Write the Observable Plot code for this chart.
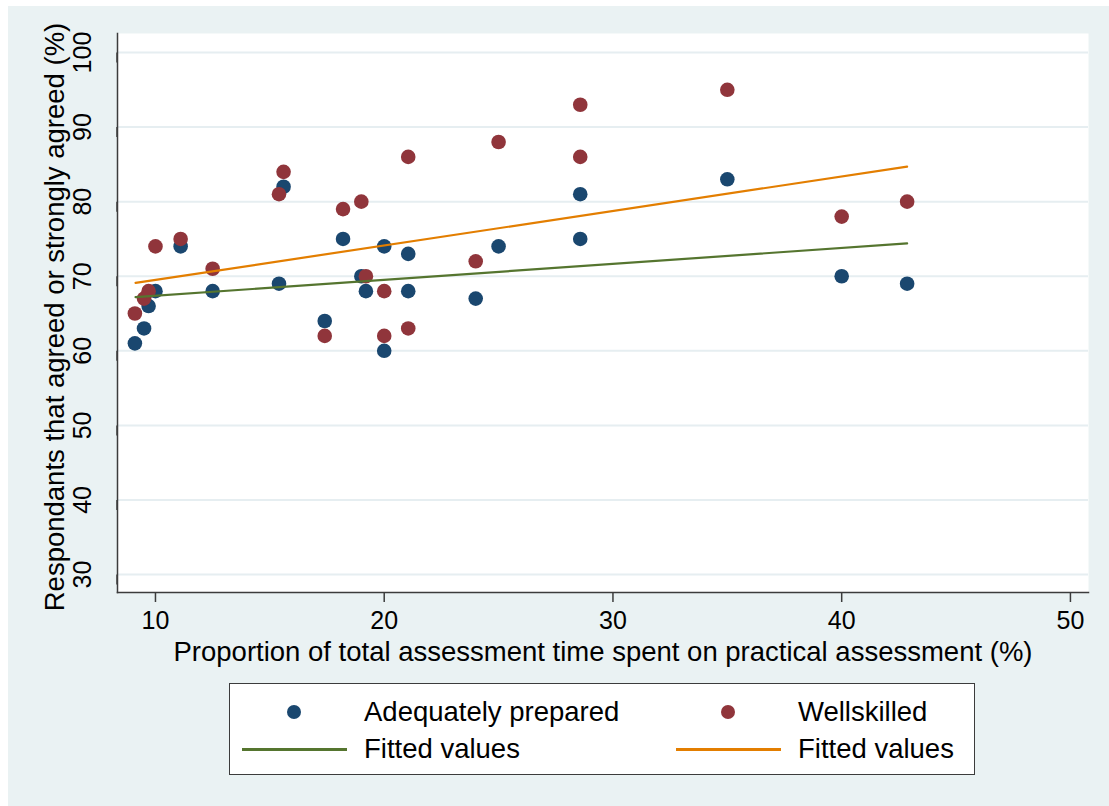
<!DOCTYPE html>
<html>
<head>
<meta charset="utf-8">
<script src="https://cdn.jsdelivr.net/npm/d3@7"></script>
<script src="https://cdn.jsdelivr.net/npm/@observablehq/plot@0.6"></script>
<style>
  html, body { margin: 0; padding: 0; background: #ffffff; }
  #wrap { position: absolute; left: 8px; top: 6px; width: 1101px; height: 800px; background: #EAF2F3; font-family: "Liberation Sans", Arial, Helvetica, sans-serif; }
  #chart { position: absolute; left: 0; top: 0; }
  #legend { position: absolute; left: 221px; top: 677px; width: 744px; height: 90px; background: #fff; border: 1.5px solid #3c3c3c; }
  .item { position: absolute; font-size: 27.5px; color: #000; line-height: 30px; white-space: nowrap; }
  .dot { position: absolute; width: 14px; height: 14px; border-radius: 50%; }
  .ln { position: absolute; height: 3px; }
</style>
</head>
<body>
<div id="wrap">
  <div id="chart"></div>
  <div id="legend"></div>
</div>
<script>
// ---- data ----
const practicalShare = [9.1, 9.5, 9.7, 10, 11.1, 12.5, 15.4, 15.6, 17.4, 18.2, 19, 19.2, 20, 20, 21.05, 21.05, 24, 25, 28.57, 28.57, 35, 40, 42.86];
const adequatelyPrepared = [61, 63, 66, 68, 74, 68, 69, 82, 64, 75, 70, 68, 74, 60, 73, 68, 67, 74, 81, 75, 83, 70, 69];
const wellskilled = [65, 67, 68, 74, 75, 71, 81, 84, 62, 79, 80, 70, 68, 62, 86, 63, 72, 88, 93, 86, 95, 78, 80];
// fitted-line endpoints as drawn in the reference
const fittedX = [9.13, 42.86];
const fittedAdequate = [67.2, 74.4];
const fittedWell = [69.1, 84.7];
const xTicks = [10, 20, 30, 40, 50];
const yTicks = [30, 40, 50, 60, 70, 80, 90, 100];
const seriesNames = ["Adequately prepared", "Wellskilled", "Fitted values", "Fitted values"];
const colors = ["#1A476F", "#90353B", "#55752F", "#E37E00"];
const xLabel = "Proportion of total assessment time spent on practical assessment (%)";
const yLabel = "Respondants that agreed or strongly agreed (%)";

const blueData = practicalShare.map((x, i) => ({x, y: adequatelyPrepared[i]}));
const redData = practicalShare.map((x, i) => ({x, y: wellskilled[i]}));
const greenFit = fittedX.map((x, i) => ({x, y: fittedAdequate[i]}));
const orangeFit = fittedX.map((x, i) => ({x, y: fittedWell[i]}));

const chart = Plot.plot({
  width: 1101,
  height: 670,
  marginLeft: 109,
  marginRight: 21,
  marginTop: 27,
  marginBottom: 84,
  style: { background: "transparent", fontFamily: "'Liberation Sans', Arial, Helvetica, sans-serif", fontSize: "25px", color: "#000", overflow: "visible" },
  x: { domain: [8.34, 50.79] },
  y: { domain: [27.59, 102.55] },
  marks: [
    Plot.frame({ fill: "white", stroke: "none" }),
    Plot.gridY(yTicks, { stroke: "#e6eef1", strokeOpacity: 1, strokeWidth: 2 }),
    Plot.axisX(xTicks, { tickSize: 10, tickPadding: 9, stroke: "#3c3c3c", strokeWidth: 1.5, fill: "#000", label: null, tickFormat: d => String(d) }),
    Plot.axisY(yTicks, { tickSize: 10, tickPadding: 25, stroke: "#3c3c3c", strokeWidth: 1.5, fill: "#000", label: null, rotate: -90, textAnchor: "middle", lineAnchor: "middle", tickFormat: d => String(d) }),
    Plot.frame({ anchor: "left", stroke: "#3c3c3c", strokeWidth: 1.5 }),
    Plot.frame({ anchor: "bottom", stroke: "#3c3c3c", strokeWidth: 1.5 }),
    Plot.dot(blueData, { x: "x", y: "y", r: 7.3, fill: colors[0], stroke: "none" }),
    Plot.dot(redData, { x: "x", y: "y", r: 7.3, fill: colors[1], stroke: "none" }),
    Plot.line(greenFit, { x: "x", y: "y", stroke: colors[2], strokeWidth: 2.2 }),
    Plot.line(orangeFit, { x: "x", y: "y", stroke: colors[3], strokeWidth: 2.2 }),
    Plot.text([xLabel], { frameAnchor: "bottom", dy: 60, textAnchor: "middle", lineAnchor: "middle", fontSize: 27.5, fill: "#000" }),
    Plot.text([yLabel], { frameAnchor: "left", dx: -62, dy: 4, rotate: -90, textAnchor: "middle", lineAnchor: "middle", fontSize: 27.5, fill: "#000" })
  ]
});
document.getElementById("chart").appendChild(chart);

// legend (HTML, below the svg area)
const legend = document.getElementById("legend");
const legendItems = [
  { kind: "dot", color: colors[0], name: seriesNames[0], sx: 64, tx: 134, cy: 28 },
  { kind: "dot", color: colors[1], name: seriesNames[1], sx: 498, tx: 568, cy: 28 },
  { kind: "line", color: colors[2], name: seriesNames[2], sx: 12, tx: 134, cy: 65 },
  { kind: "line", color: colors[3], name: seriesNames[3], sx: 446, tx: 568, cy: 65 }
];
for (const it of legendItems) {
  const sym = document.createElement("div");
  if (it.kind === "dot") {
    sym.className = "dot";
    sym.style.left = (it.sx - 7) + "px";
    sym.style.top = (it.cy - 7) + "px";
  } else {
    sym.className = "ln";
    sym.style.left = it.sx + "px";
    sym.style.width = "105px";
    sym.style.top = (it.cy - 1.5) + "px";
  }
  sym.style.background = it.color;
  legend.appendChild(sym);
  const t = document.createElement("div");
  t.className = "item";
  t.textContent = it.name;
  t.style.left = it.tx + "px";
  t.style.top = (it.cy - 15) + "px";
  legend.appendChild(t);
}
</script>
</body>
</html>
